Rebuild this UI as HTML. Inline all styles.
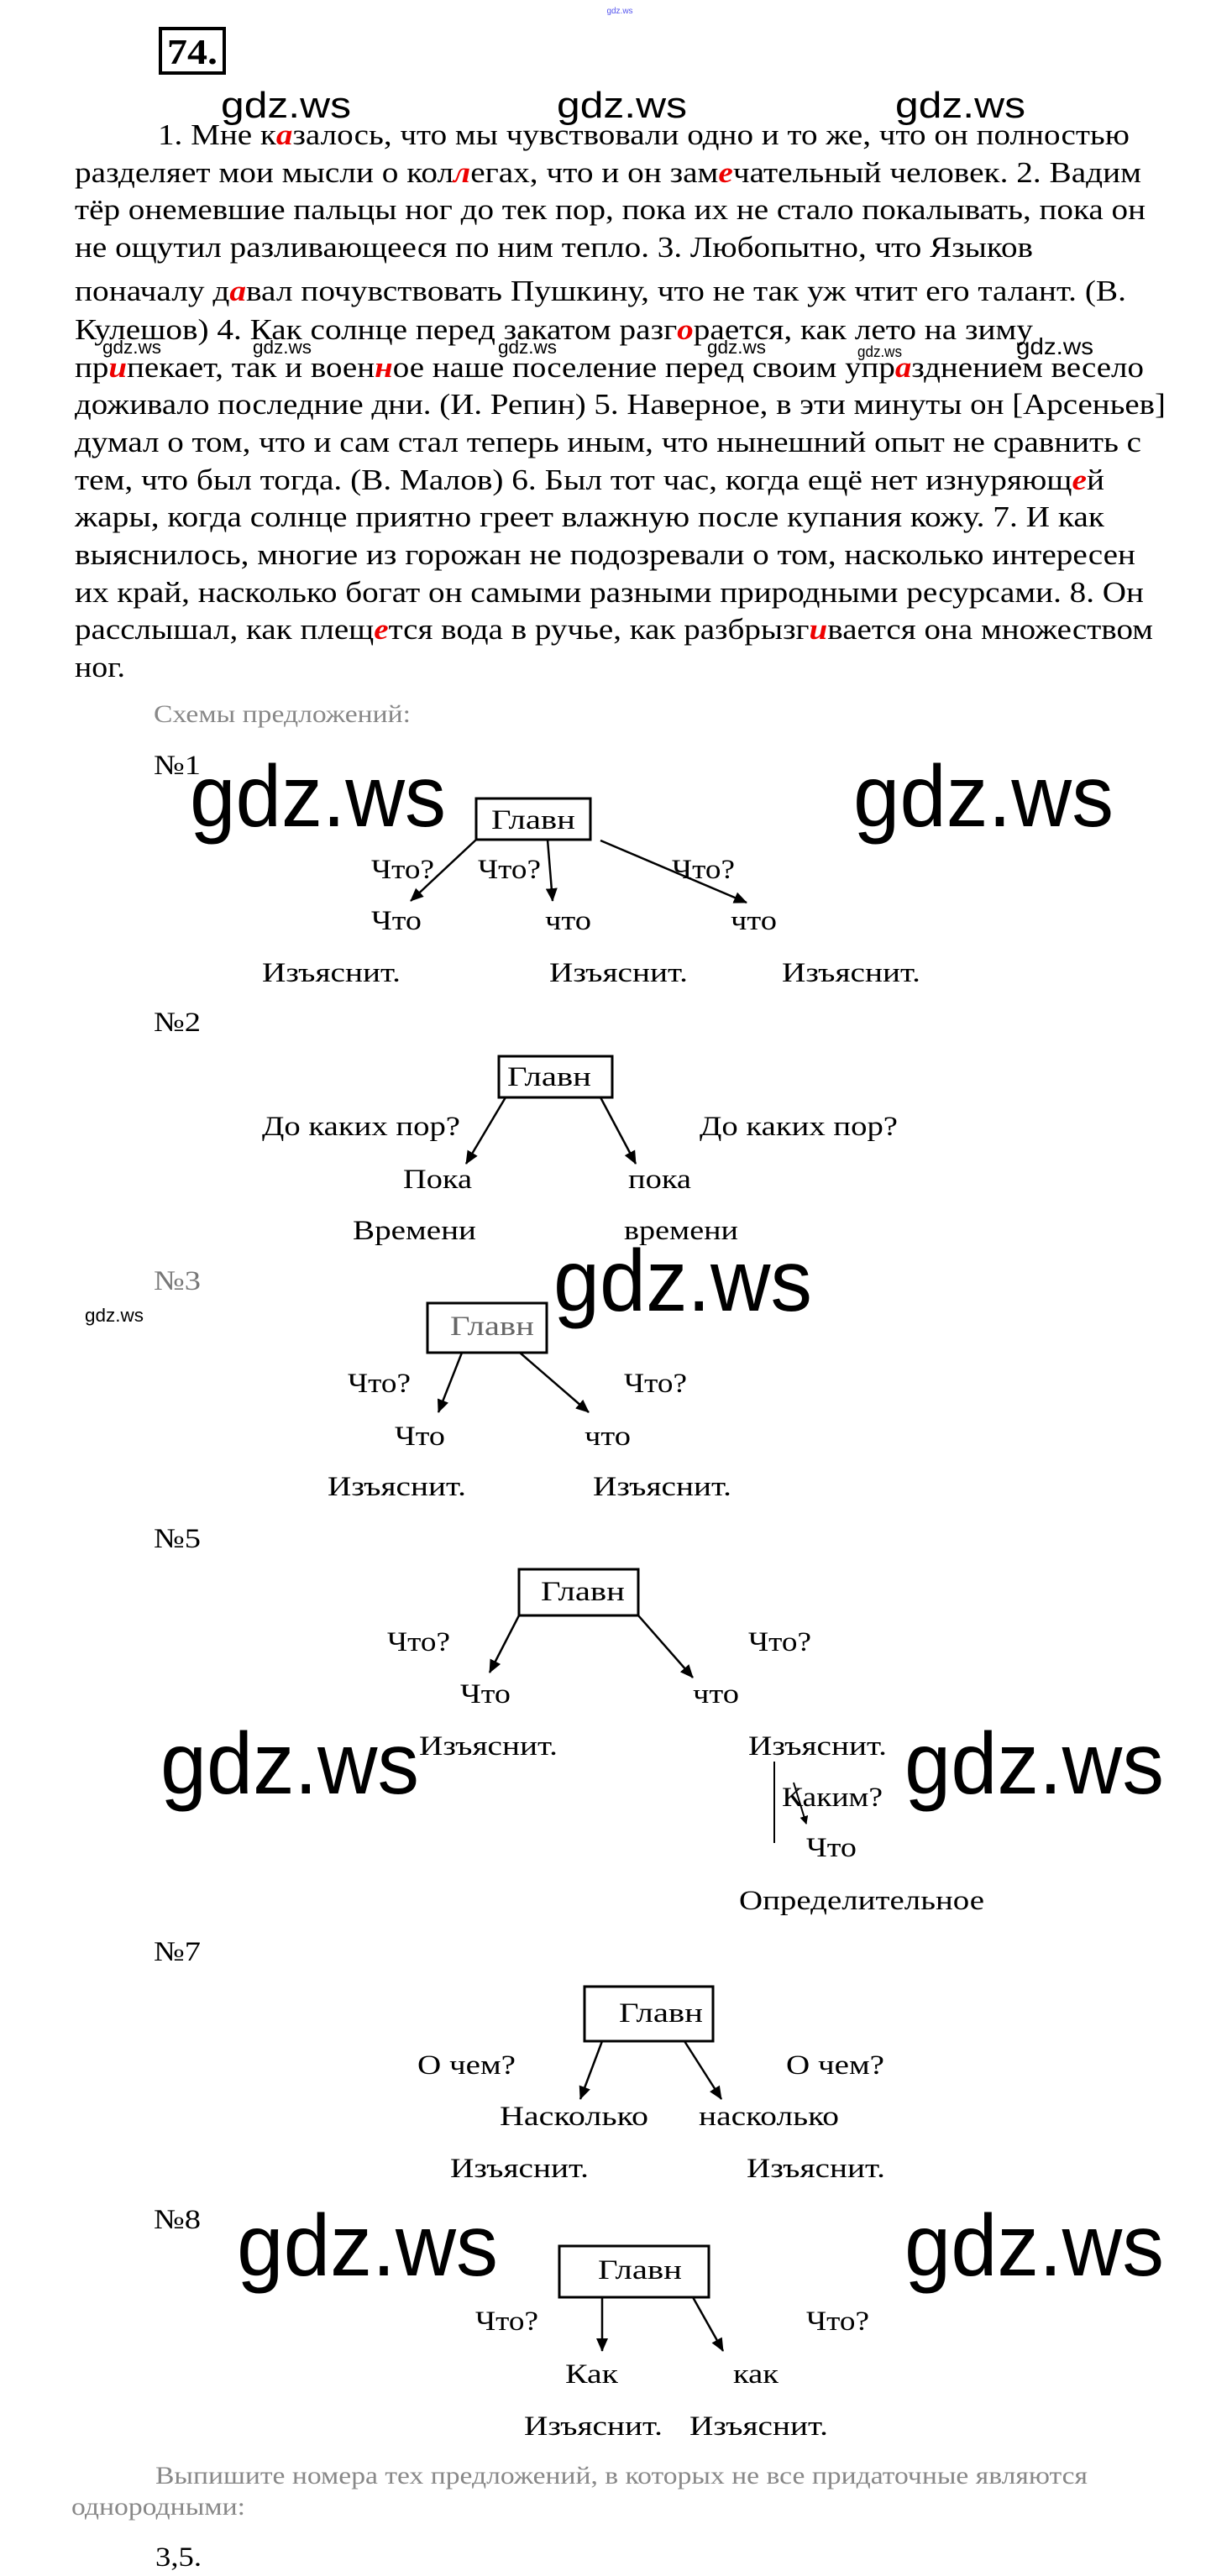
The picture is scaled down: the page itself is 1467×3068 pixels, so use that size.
<!DOCTYPE html>
<html><head><meta charset="utf-8"><style>html,body{margin:0;padding:0;background:#fff}svg{display:block}</style></head>
<body>
<svg width="1467" height="3068" viewBox="0 0 1467 3068" xmlns="http://www.w3.org/2000/svg" font-family="'Liberation Serif', serif">
<defs><marker id="a" markerWidth="10" markerHeight="10" refX="9" refY="5" orient="auto" markerUnits="userSpaceOnUse" viewBox="0 0 10 10"><path d="M0,0 L10,5 L0,10 z" fill="#000"/></marker>
<marker id="b" markerWidth="16" markerHeight="14" refX="15" refY="7" orient="auto" markerUnits="userSpaceOnUse" viewBox="0 0 16 14"><path d="M0,0 L16,7 L0,14 z" fill="#000"/></marker></defs>
<text x="738" y="16" font-family="'Liberation Sans',sans-serif" font-size="10" fill="#55e" text-anchor="middle">gdz.ws</text>
<rect x="191" y="34" width="76" height="53" fill="none" stroke="#000" stroke-width="4"/>
<text x="199" y="76" font-size="42" font-weight="bold" textLength="60" lengthAdjust="spacingAndGlyphs">74.</text>
<g font-family="'Liberation Sans',sans-serif" font-size="44">
<text x="263" y="140" textLength="155" lengthAdjust="spacingAndGlyphs">gdz.ws</text>
<text x="663" y="140" textLength="155" lengthAdjust="spacingAndGlyphs">gdz.ws</text>
<text x="1066" y="140" textLength="155" lengthAdjust="spacingAndGlyphs">gdz.ws</text>
</g>
<g font-size="35" lengthAdjust="spacingAndGlyphs">
<text x="188" y="172" textLength="1157" lengthAdjust="spacingAndGlyphs">1. Мне к<tspan fill="#e00" font-style="italic" font-weight="bold">а</tspan>залось, что мы чувствовали одно и то же, что он полностью</text>
<text x="89" y="217" textLength="1270" lengthAdjust="spacingAndGlyphs">разделяет мои мысли о кол<tspan fill="#e00" font-style="italic" font-weight="bold">л</tspan>егах, что и он зам<tspan fill="#e00" font-style="italic" font-weight="bold">е</tspan>чательный человек. 2. Вадим</text>
<text x="89" y="261" textLength="1275" lengthAdjust="spacingAndGlyphs">тёр онемевшие пальцы ног до тек пор, пока их не стало покалывать, пока он</text>
<text x="89" y="306" textLength="1141" lengthAdjust="spacingAndGlyphs">не ощутил разливающееся по ним тепло. 3. Любопытно, что Языков</text>
<text x="89" y="358" textLength="1252" lengthAdjust="spacingAndGlyphs">поначалу д<tspan fill="#e00" font-style="italic" font-weight="bold">а</tspan>вал почувствовать Пушкину, что не так уж чтит его талант. (В.</text>
<text x="89" y="404" textLength="1141" lengthAdjust="spacingAndGlyphs">Кулешов) 4. Как солнце перед закатом разг<tspan fill="#e00" font-style="italic" font-weight="bold">о</tspan>рается, как лето на зиму</text>
<text x="89" y="449" textLength="1273" lengthAdjust="spacingAndGlyphs">пр<tspan fill="#e00" font-style="italic" font-weight="bold">и</tspan>пекает, так и воен<tspan fill="#e00" font-style="italic" font-weight="bold">н</tspan>ое наше поселение перед своим упр<tspan fill="#e00" font-style="italic" font-weight="bold">а</tspan>зднением весело</text>
<text x="89" y="493" textLength="1299" lengthAdjust="spacingAndGlyphs">доживало последние дни. (И. Репин) 5. Наверное, в эти минуты он [Арсеньев]</text>
<text x="89" y="538" textLength="1270" lengthAdjust="spacingAndGlyphs">думал о том, что и сам стал теперь иным, что нынешний опыт не сравнить с</text>
<text x="89" y="583" textLength="1226" lengthAdjust="spacingAndGlyphs">тем, что был тогда. (В. Малов) 6. Был тот час, когда ещё нет изнуряющ<tspan fill="#e00" font-style="italic" font-weight="bold">е</tspan>й</text>
<text x="89" y="627" textLength="1226" lengthAdjust="spacingAndGlyphs">жары, когда солнце приятно греет влажную после купания кожу. 7. И как</text>
<text x="89" y="672" textLength="1263" lengthAdjust="spacingAndGlyphs">выяснилось, многие из горожан не подозревали о том, насколько интересен</text>
<text x="89" y="717" textLength="1273" lengthAdjust="spacingAndGlyphs">их край, насколько богат он самыми разными природными ресурсами. 8. Он</text>
<text x="89" y="761" textLength="1284" lengthAdjust="spacingAndGlyphs">расслышал, как плещ<tspan fill="#e00" font-style="italic" font-weight="bold">е</tspan>тся вода в ручье, как разбрызг<tspan fill="#e00" font-style="italic" font-weight="bold">и</tspan>вается она множеством</text>
<text x="89" y="806" textLength="60" lengthAdjust="spacingAndGlyphs">ног.</text>
</g>
<g font-family="'Liberation Sans',sans-serif" font-size="22">
<text x="122" y="421" textLength="70" lengthAdjust="spacingAndGlyphs">gdz.ws</text>
<text x="301" y="421" textLength="70" lengthAdjust="spacingAndGlyphs">gdz.ws</text>
<text x="593" y="421" textLength="70" lengthAdjust="spacingAndGlyphs">gdz.ws</text>
<text x="842" y="421" textLength="70" lengthAdjust="spacingAndGlyphs">gdz.ws</text>
<text x="1021" y="425" font-size="18" textLength="53" lengthAdjust="spacingAndGlyphs">gdz.ws</text>
<text x="1210" y="422" font-size="28" textLength="92" lengthAdjust="spacingAndGlyphs">gdz.ws</text>
<text x="101" y="1574" textLength="70" lengthAdjust="spacingAndGlyphs">gdz.ws</text>
</g>
<g fill="#888" font-size="30">
<text x="183" y="860" textLength="306" lengthAdjust="spacingAndGlyphs">Схемы предложений:</text>
<text x="185" y="2958" textLength="1110" lengthAdjust="spacingAndGlyphs">Выпишите номера тех предложений, в которых не все придаточные являются</text>
<text x="85" y="2995" textLength="207" lengthAdjust="spacingAndGlyphs">однородными:</text>
</g>
<g font-family="'Liberation Sans',sans-serif" font-size="104">
<text x="226" y="984" textLength="305" lengthAdjust="spacingAndGlyphs">gdz.ws</text>
<text x="1016" y="984" textLength="310" lengthAdjust="spacingAndGlyphs">gdz.ws</text>
<text x="659" y="1561" textLength="308" lengthAdjust="spacingAndGlyphs">gdz.ws</text>
<text x="191" y="2136" textLength="308" lengthAdjust="spacingAndGlyphs">gdz.ws</text>
<text x="1077" y="2136" textLength="309" lengthAdjust="spacingAndGlyphs">gdz.ws</text>
<text x="282" y="2710" textLength="311" lengthAdjust="spacingAndGlyphs">gdz.ws</text>
<text x="1077" y="2710" textLength="309" lengthAdjust="spacingAndGlyphs">gdz.ws</text>
</g>
<g font-size="33">
<text x="183" y="922" textLength="56" lengthAdjust="spacingAndGlyphs">№1</text>
<text x="183" y="1228" textLength="56" lengthAdjust="spacingAndGlyphs">№2</text>
<text x="183" y="1536" textLength="56" lengthAdjust="spacingAndGlyphs" fill="#777">№3</text>
<text x="183" y="1843" textLength="56" lengthAdjust="spacingAndGlyphs">№5</text>
<text x="183" y="2335" textLength="56" lengthAdjust="spacingAndGlyphs">№7</text>
<text x="183" y="2654" textLength="56" lengthAdjust="spacingAndGlyphs">№8</text>
<text x="185" y="3056" textLength="55" lengthAdjust="spacingAndGlyphs">3,5.</text>
</g>
<g fill="none" stroke="#000" stroke-width="3">
<rect x="567" y="951" width="136" height="49"/>
<rect x="594" y="1258" width="135" height="49"/>
<rect x="509" y="1552" width="142" height="59"/>
<rect x="618" y="1869" width="142" height="55"/>
<rect x="696" y="2366" width="153" height="65"/>
<rect x="666" y="2675" width="178" height="61"/>
</g>
<g stroke="#000" stroke-width="2.5" marker-end="url(#b)">
<line x1="567" y1="1000" x2="489" y2="1073"/>
<line x1="652" y1="1000" x2="658" y2="1073"/>
<line x1="715" y1="1001" x2="889" y2="1075"/>
<line x1="602" y1="1307" x2="555" y2="1386"/>
<line x1="715" y1="1307" x2="757" y2="1386"/>
<line x1="550" y1="1611" x2="522" y2="1682"/>
<line x1="619" y1="1611" x2="701" y2="1682"/>
<line x1="618" y1="1924" x2="583" y2="1992"/>
<line x1="760" y1="1924" x2="825" y2="1998"/>
<line x1="717" y1="2431" x2="691" y2="2500"/>
<line x1="815" y1="2431" x2="859" y2="2500"/>
<line x1="717" y1="2736" x2="717" y2="2800"/>
<line x1="825" y1="2736" x2="861" y2="2800"/>
</g>
<line x1="922" y1="2098" x2="922" y2="2195" stroke="#000" stroke-width="2"/>
<line x1="945" y1="2123" x2="960" y2="2172" stroke="#000" stroke-width="2" marker-end="url(#a)"/>
<g font-size="33" lengthAdjust="spacingAndGlyphs">
<text x="585" y="987" textLength="100" lengthAdjust="spacingAndGlyphs">Главн</text>
<text x="442" y="1046" textLength="75" lengthAdjust="spacingAndGlyphs">Что?</text>
<text x="569" y="1046" textLength="75" lengthAdjust="spacingAndGlyphs">Что?</text>
<text x="800" y="1046" textLength="75" lengthAdjust="spacingAndGlyphs">Что?</text>
<text x="442" y="1107" textLength="60" lengthAdjust="spacingAndGlyphs">Что</text>
<text x="649" y="1107" textLength="55" lengthAdjust="spacingAndGlyphs">что</text>
<text x="870" y="1107" textLength="55" lengthAdjust="spacingAndGlyphs">что</text>
<text x="312" y="1169" textLength="165" lengthAdjust="spacingAndGlyphs">Изъяснит.</text>
<text x="654" y="1169" textLength="165" lengthAdjust="spacingAndGlyphs">Изъяснит.</text>
<text x="931" y="1169" textLength="165" lengthAdjust="spacingAndGlyphs">Изъяснит.</text>

<text x="604" y="1293" textLength="100" lengthAdjust="spacingAndGlyphs">Главн</text>
<text x="312" y="1352" textLength="236" lengthAdjust="spacingAndGlyphs">До каких пор?</text>
<text x="833" y="1352" textLength="236" lengthAdjust="spacingAndGlyphs">До каких пор?</text>
<text x="480" y="1415" textLength="82" lengthAdjust="spacingAndGlyphs">Пока</text>
<text x="748" y="1415" textLength="75" lengthAdjust="spacingAndGlyphs">пока</text>
<text x="420" y="1476" textLength="147" lengthAdjust="spacingAndGlyphs">Времени</text>
<text x="743" y="1476" textLength="136" lengthAdjust="spacingAndGlyphs">времени</text>

<text x="536" y="1590" textLength="100" lengthAdjust="spacingAndGlyphs" fill="#666">Главн</text>
<text x="414" y="1658" textLength="75" lengthAdjust="spacingAndGlyphs">Что?</text>
<text x="743" y="1658" textLength="75" lengthAdjust="spacingAndGlyphs">Что?</text>
<text x="470" y="1721" textLength="60" lengthAdjust="spacingAndGlyphs">Что</text>
<text x="696" y="1721" textLength="55" lengthAdjust="spacingAndGlyphs">что</text>
<text x="390" y="1781" textLength="165" lengthAdjust="spacingAndGlyphs">Изъяснит.</text>
<text x="706" y="1781" textLength="165" lengthAdjust="spacingAndGlyphs">Изъяснит.</text>

<text x="644" y="1906" textLength="100" lengthAdjust="spacingAndGlyphs">Главн</text>
<text x="461" y="1966" textLength="75" lengthAdjust="spacingAndGlyphs">Что?</text>
<text x="891" y="1966" textLength="75" lengthAdjust="spacingAndGlyphs">Что?</text>
<text x="548" y="2028" textLength="60" lengthAdjust="spacingAndGlyphs">Что</text>
<text x="825" y="2028" textLength="55" lengthAdjust="spacingAndGlyphs">что</text>
<text x="499" y="2090" textLength="165" lengthAdjust="spacingAndGlyphs">Изъяснит.</text>
<text x="891" y="2090" textLength="165" lengthAdjust="spacingAndGlyphs">Изъяснит.</text>
<text x="931" y="2151" textLength="120" lengthAdjust="spacingAndGlyphs">Каким?</text>
<text x="960" y="2211" textLength="60" lengthAdjust="spacingAndGlyphs">Что</text>
<text x="880" y="2274" textLength="292" lengthAdjust="spacingAndGlyphs">Определительное</text>

<text x="737" y="2408" textLength="100" lengthAdjust="spacingAndGlyphs">Главн</text>
<text x="497" y="2470" textLength="117" lengthAdjust="spacingAndGlyphs">О чем?</text>
<text x="936" y="2470" textLength="117" lengthAdjust="spacingAndGlyphs">О чем?</text>
<text x="595" y="2531" textLength="177" lengthAdjust="spacingAndGlyphs">Насколько</text>
<text x="832" y="2531" textLength="167" lengthAdjust="spacingAndGlyphs">насколько</text>
<text x="536" y="2593" textLength="165" lengthAdjust="spacingAndGlyphs">Изъяснит.</text>
<text x="889" y="2593" textLength="165" lengthAdjust="spacingAndGlyphs">Изъяснит.</text>

<text x="712" y="2714" textLength="100" lengthAdjust="spacingAndGlyphs">Главн</text>
<text x="566" y="2775" textLength="75" lengthAdjust="spacingAndGlyphs">Что?</text>
<text x="960" y="2775" textLength="75" lengthAdjust="spacingAndGlyphs">Что?</text>
<text x="673" y="2838" textLength="63" lengthAdjust="spacingAndGlyphs">Как</text>
<text x="873" y="2838" textLength="54" lengthAdjust="spacingAndGlyphs">как</text>
<text x="624" y="2900" textLength="165" lengthAdjust="spacingAndGlyphs">Изъяснит.</text>
<text x="821" y="2900" textLength="165" lengthAdjust="spacingAndGlyphs">Изъяснит.</text>
</g>
</svg>
</body></html>
